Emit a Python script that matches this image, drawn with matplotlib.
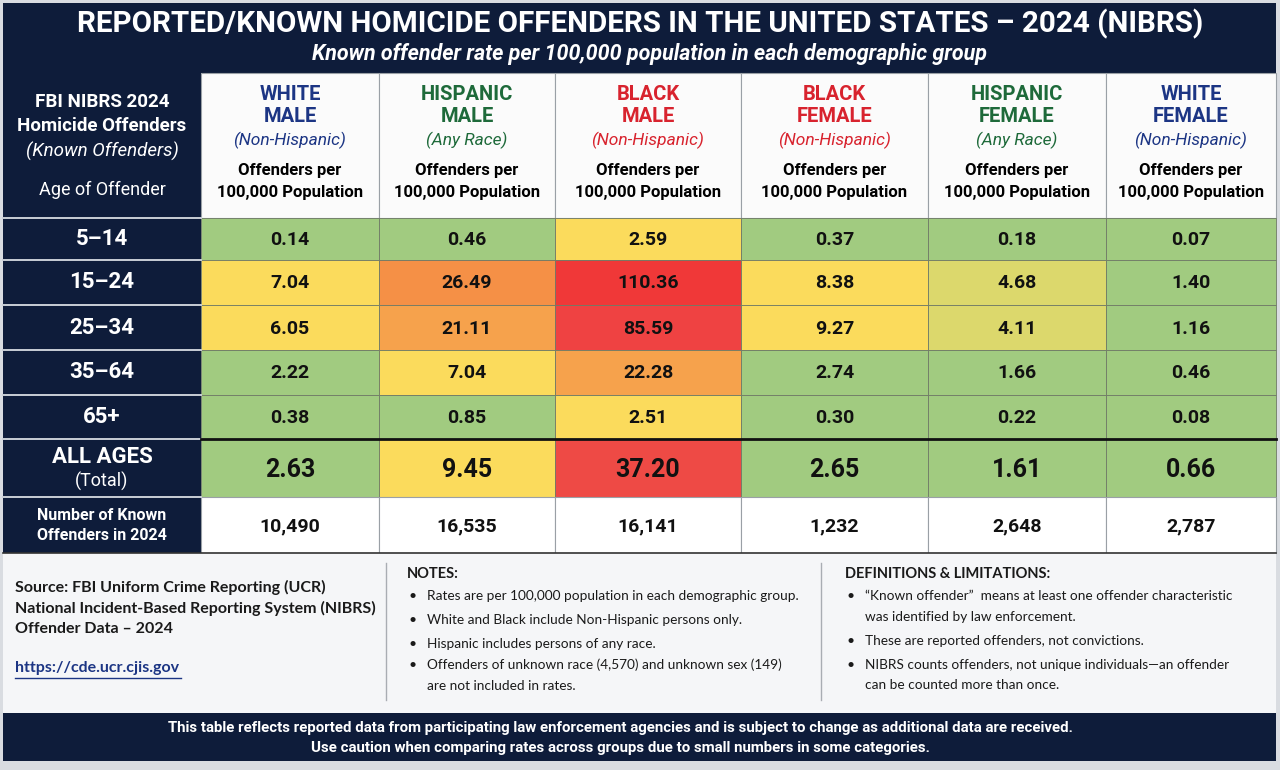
import matplotlib
matplotlib.use("Agg")
import matplotlib.pyplot as plt
from matplotlib.patches import Rectangle
from matplotlib import font_manager

# ---- data ----
ages = ["5–14", "15–24", "25–34", "35–64", "65+"]
group_top = ["WHITE", "HISPANIC", "BLACK", "BLACK", "HISPANIC", "WHITE"]
group_sex = ["MALE", "MALE", "MALE", "FEMALE", "FEMALE", "FEMALE"]
group_note = ["(Non-Hispanic)", "(Any Race)", "(Non-Hispanic)",
              "(Non-Hispanic)", "(Any Race)", "(Non-Hispanic)"]

white_male = [0.14, 7.04, 6.05, 2.22, 0.38]
hispanic_male = [0.46, 26.49, 21.11, 7.04, 0.85]
black_male = [2.59, 110.36, 85.59, 22.28, 2.51]
black_female = [0.37, 8.38, 9.27, 2.74, 0.30]
hispanic_female = [0.18, 4.68, 4.11, 1.66, 0.22]
white_female = [0.07, 1.40, 1.16, 0.46, 0.08]
rates = [white_male, hispanic_male, black_male,
         black_female, hispanic_female, white_female]

all_ages = [2.63, 9.45, 37.20, 2.65, 1.61, 0.66]
known_offenders = [10490, 16535, 16141, 1232, 2648, 2787]

notes = [
    ["Rates are per 100,000 population in each demographic group."],
    ["White and Black include Non-Hispanic persons only."],
    ["Hispanic includes persons of any race."],
    ["Offenders of unknown race (4,570) and unknown sex (149)",
     "are not included in rates."],
]
definitions = [
    ["\u201cKnown offender\u201d  means at least one offender characteristic",
     "was identified by law enforcement."],
    ["These are reported offenders, not convictions."],
    ["NIBRS counts offenders, not unique individuals\u2014an offender",
     "can be counted more than once."],
]

# ---- styling ----
NAVY = "#0e1c3a"
GREEN = "#a1cb80"
YEL = "#fbdb5c"
YG = "#dcd86c"
OR1 = "#f59046"
OR2 = "#f6a24c"
RED1 = "#f03838"
RED2 = "#ef4242"
RED3 = "#ee4a45"
heat = [
    [GREEN, YEL, YEL, GREEN, GREEN],
    [GREEN, OR1, OR2, YEL, GREEN],
    [YEL, RED1, RED2, OR2, YEL],
    [GREEN, YEL, YEL, GREEN, GREEN],
    [GREEN, YG, YG, GREEN, GREEN],
    [GREEN, GREEN, GREEN, GREEN, GREEN],
]
heat_total = [GREEN, YEL, RED3, GREEN, GREEN, GREEN]
group_color = {"WHITE": "#1c3584", "HISPANIC": "#1e6a3a", "BLACK": "#d8232e"}

installed = {f.name for f in font_manager.fontManager.ttflist}
COND = [f for f in ["Liberation Sans Narrow", "Roboto", "DejaVu Sans"] if f in installed]
BODY = [f for f in ["Lato", "Open Sans", "DejaVu Sans"] if f in installed]
plt.rcParams["font.family"] = COND

W, H = 1280, 770
fig = plt.figure(figsize=(12.8, 7.7), dpi=100)
ax = fig.add_axes([0, 0, 1, 1])
ax.set_xlim(0, W)
ax.set_ylim(H, 0)
ax.axis("off")
fig.patch.set_facecolor("#d9dce1")

col_edges = [3, 201, 379, 555, 741, 928, 1106, 1276]
head_top, head_bot = 73, 218
row_edges = [218, 260, 305, 350, 395, 439, 497, 553]


def rect(x0, y0, x1, y1, fc, ec="none", lw=0, z=1):
    ax.add_patch(Rectangle((x0, y0), x1 - x0, y1 - y0, facecolor=fc,
                           edgecolor=ec, linewidth=lw, zorder=z))


# title banner
rect(3, 3, 1276, head_top, NAVY)
ax.text(640, 24, "REPORTED/KNOWN HOMICIDE OFFENDERS IN THE UNITED STATES – 2024 (NIBRS)",
        color="white", fontsize=21.3, fontweight="bold", ha="center", va="center")
ax.text(650, 54, "Known offender rate per 100,000 population in each demographic group",
        color="white", fontsize=15.5, fontweight="bold", style="italic",
        ha="center", va="center")

# left column
rect(col_edges[0], head_top, col_edges[1], row_edges[-1], NAVY)
ax.text(102, 102, "FBI NIBRS 2024", color="white", fontsize=13.5,
        fontweight="bold", ha="center", va="center")
ax.text(102, 126, "Homicide Offenders", color="white", fontsize=13.5,
        fontweight="bold", ha="center", va="center")
ax.text(102, 151, "(Known Offenders)", color="white", fontsize=13.5,
        style="italic", ha="center", va="center")
ax.text(102, 190, "Age of Offender", color="white", fontsize=13,
        ha="center", va="center")

# header cells
for j in range(6):
    x0, x1 = col_edges[j + 1], col_edges[j + 2]
    xc = (x0 + x1) / 2
    rect(x0, head_top, x1, head_bot, "#fbfbfb", ec="#9aa0a6", lw=0.8)
    c = group_color[group_top[j]]
    ax.text(xc, 95, group_top[j], color=c, fontsize=14.5, fontweight="bold",
            ha="center", va="center")
    ax.text(xc, 117, group_sex[j], color=c, fontsize=14.5, fontweight="bold",
            ha="center", va="center")
    ax.text(xc, 140, group_note[j], color=c, fontsize=12.5, style="italic",
            ha="center", va="center")
    ax.text(xc, 171, "Offenders per", color="black", fontsize=12,
            fontweight="bold", ha="center", va="center")
    ax.text(xc, 192, "100,000 Population", color="black", fontsize=12,
            fontweight="bold", ha="center", va="center")

# age rows
for i, age in enumerate(ages):
    y0, y1 = row_edges[i], row_edges[i + 1]
    yc = (y0 + y1) / 2
    ax.text(102, yc, age, color="white", fontsize=16, fontweight="bold",
            ha="center", va="center")
    for j in range(6):
        x0, x1 = col_edges[j + 1], col_edges[j + 2]
        rect(x0, y0, x1, y1, heat[j][i], ec="#6f7a66", lw=0.6)
        ax.text((x0 + x1) / 2, yc + 1, f"{rates[j][i]:.2f}", color="#111111",
                fontsize=14, fontweight="bold", ha="center", va="center")

# all ages row
y0, y1 = row_edges[5], row_edges[6]
yc = (y0 + y1) / 2
ax.text(102, 457, "ALL AGES", color="white", fontsize=16, fontweight="bold",
        ha="center", va="center")
ax.text(102, 481, "(Total)", color="white", fontsize=13,
        ha="center", va="center")
for j in range(6):
    x0, x1 = col_edges[j + 1], col_edges[j + 2]
    rect(x0, y0, x1, y1, heat_total[j], ec="#6f7a66", lw=0.6)
    ax.text((x0 + x1) / 2, yc + 2, f"{all_ages[j]:.2f}", color="#111111",
            fontsize=18, fontweight="bold", ha="center", va="center")

# known offenders row
y0, y1 = row_edges[6], row_edges[7]
yc = (y0 + y1) / 2
ax.text(102, 515, "Number of Known", color="white", fontsize=11.5,
        fontweight="bold", ha="center", va="center")
ax.text(102, 536, "Offenders in 2024", color="white", fontsize=11.5,
        fontweight="bold", ha="center", va="center")
for j in range(6):
    x0, x1 = col_edges[j + 1], col_edges[j + 2]
    rect(x0, y0, x1, y1, "white", ec="#9aa0a6", lw=0.8)
    ax.text((x0 + x1) / 2, yc + 1, f"{known_offenders[j]:,}", color="#111111",
            fontsize=14, fontweight="bold", ha="center", va="center")

# row separators in the navy column and heavy line above totals
for y in row_edges[:-1]:
    ax.plot([col_edges[0], col_edges[1]], [y, y], color="#c9ced6", lw=1.4, zorder=3)
ax.plot([col_edges[1], col_edges[-1]], [row_edges[5], row_edges[5]],
        color="#111111", lw=2, zorder=4)
ax.plot([col_edges[0], col_edges[-1]], [row_edges[-1], row_edges[-1]],
        color="#333333", lw=1.2, zorder=4)

# notes panel
rect(3, row_edges[-1], 1276, 713, "#f5f6f8")
ax.plot([386, 386], [563, 700], color="#a9adb3", lw=1)
ax.plot([821, 821], [563, 700], color="#a9adb3", lw=1)

src_lines = ["Source: FBI Uniform Crime Reporting (UCR)",
             "National Incident-Based Reporting System (NIBRS)",
             "Offender Data – 2024"]
for k, line in enumerate(src_lines):
    ax.text(15, 587 + 21 * k, line, color="#1a1a1a", fontsize=11.5,
            fontweight="bold", family=BODY, ha="left", va="center")
ax.text(15, 668, "https://cde.ucr.cjis.gov", color="#1c3584", fontsize=11.5,
        fontweight="bold", family=BODY, ha="left", va="center")
ax.plot([15, 181], [677.5, 677.5], color="#1c3584", lw=1)


def bullet_block(x, title, items, ys):
    ax.text(x, 574, title, color="#1a1a1a", fontsize=10.5, fontweight="bold",
            family=BODY, ha="left", va="center")
    k = 0
    for item in items:
        ax.text(x + 6, ys[k], "•", color="#1a1a1a", fontsize=10, family=BODY,
                ha="center", va="center")
        for line in item:
            ax.text(x + 20, ys[k], line, color="#1a1a1a", fontsize=9.8,
                    family=BODY, ha="left", va="center")
            k += 1


bullet_block(407, "NOTES:", notes, [596, 620, 644, 665, 686])
bullet_block(845, "DEFINITIONS & LIMITATIONS:", definitions,
             [596, 617, 641, 665, 685])

# footer banner
rect(3, 713, 1276, 761, NAVY)
ax.text(620, 728, "This table reflects reported data from participating law enforcement "
        "agencies and is subject to change as additional data are received.",
        color="white", fontsize=10.8, fontweight="bold", ha="center", va="center")
ax.text(620, 748, "Use caution when comparing rates across groups due to small "
        "numbers in some categories.",
        color="white", fontsize=10.8, fontweight="bold", ha="center", va="center")

fig.savefig("out.png", dpi=100, facecolor=fig.get_facecolor())
